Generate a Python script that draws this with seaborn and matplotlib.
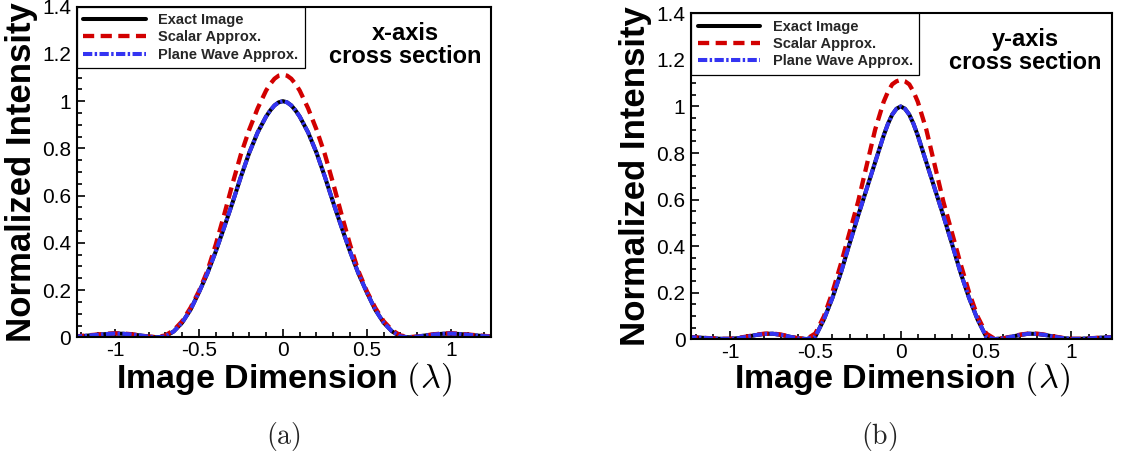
import matplotlib
matplotlib.use("Agg")
import matplotlib.pyplot as plt
from matplotlib.ticker import MultipleLocator
import seaborn as sns

# ---------------- data ----------------
X = [-1.25, -1.20, -1.15, -1.10, -1.05, -1.00, -0.95, -0.90, -0.85, -0.80,
     -0.75, -0.70, -0.65, -0.60, -0.55, -0.50, -0.45, -0.40, -0.35, -0.30,
     -0.25, -0.20, -0.15, -0.10, -0.075, -0.05, -0.025, 0.00, 0.025, 0.05, 0.075,
     0.10, 0.15, 0.20, 0.25, 0.30, 0.35, 0.40, 0.45, 0.50, 0.55, 0.60, 0.65, 0.70,
     0.75, 0.80, 0.85, 0.90, 0.95, 1.00, 1.05, 1.10, 1.15, 1.20, 1.25]

# (a) x-axis cross section
LEFT_EXACT = [0.003, 0.005, 0.008, 0.011, 0.014, 0.016, 0.015, 0.012, 0.008, 0.003,
              0.000, 0.004, 0.025, 0.062, 0.117, 0.190, 0.270, 0.363, 0.465, 0.570,
              0.680, 0.782, 0.868, 0.935, 0.961, 0.982, 0.995, 1.000, 0.995, 0.982, 0.961,
              0.935, 0.868, 0.782, 0.680, 0.570, 0.465, 0.363, 0.270, 0.190, 0.117, 0.062,
              0.025, 0.004, 0.000, 0.003, 0.008, 0.012, 0.015, 0.016, 0.014, 0.011, 0.008,
              0.005, 0.003]
LEFT_SCALAR = [0.003, 0.006, 0.009, 0.012, 0.015, 0.017, 0.016, 0.013, 0.008, 0.003,
               0.001, 0.008, 0.030, 0.068, 0.125, 0.195, 0.280, 0.392, 0.518, 0.650,
               0.775, 0.880, 0.970, 1.045, 1.073, 1.095, 1.108, 1.112, 1.108, 1.095, 1.073,
               1.045, 0.970, 0.880, 0.775, 0.650, 0.518, 0.392, 0.280, 0.195, 0.125, 0.068,
               0.030, 0.008, 0.001, 0.003, 0.008, 0.013, 0.016, 0.017, 0.015, 0.012, 0.009,
               0.006, 0.003]
LEFT_PLANE = [0.003, 0.005, 0.008, 0.011, 0.014, 0.016, 0.015, 0.012, 0.008, 0.003,
              0.000, 0.004, 0.025, 0.062, 0.117, 0.190, 0.270, 0.363, 0.465, 0.570,
              0.680, 0.782, 0.868, 0.935, 0.961, 0.982, 0.995, 1.000, 0.995, 0.982, 0.961,
              0.935, 0.868, 0.782, 0.680, 0.570, 0.465, 0.363, 0.270, 0.190, 0.117, 0.062,
              0.025, 0.004, 0.000, 0.003, 0.008, 0.012, 0.015, 0.016, 0.014, 0.011, 0.008,
              0.005, 0.003]

# (b) y-axis cross section
RIGHT_EXACT = [0.009, 0.008, 0.006, 0.004, 0.002, 0.002, 0.005, 0.011, 0.018, 0.023,
               0.024, 0.019, 0.011, 0.004, 0.001, 0.012, 0.085, 0.178, 0.287, 0.410,
               0.530, 0.645, 0.760, 0.875, 0.925, 0.965, 0.990, 1.000, 0.990, 0.965, 0.925,
               0.875, 0.760, 0.645, 0.530, 0.410, 0.287, 0.178, 0.085, 0.012, 0.001, 0.004,
               0.011, 0.019, 0.024, 0.023, 0.018, 0.011, 0.005, 0.002, 0.002, 0.004, 0.006,
               0.008, 0.009]
RIGHT_SCALAR = [0.009, 0.008, 0.006, 0.004, 0.002, 0.002, 0.006, 0.012, 0.019, 0.024,
                0.025, 0.020, 0.012, 0.004, 0.002, 0.025, 0.098, 0.202, 0.325, 0.458,
                0.590, 0.745, 0.900, 1.020, 1.063, 1.095, 1.108, 1.114, 1.108, 1.095, 1.063,
                1.020, 0.900, 0.745, 0.590, 0.458, 0.325, 0.202, 0.098, 0.025, 0.002, 0.004,
                0.012, 0.020, 0.025, 0.024, 0.019, 0.012, 0.006, 0.002, 0.002, 0.004, 0.006,
                0.008, 0.009]
RIGHT_PLANE = [0.009, 0.008, 0.006, 0.004, 0.002, 0.002, 0.005, 0.011, 0.018, 0.023,
               0.024, 0.019, 0.011, 0.004, 0.001, 0.012, 0.085, 0.178, 0.287, 0.410,
               0.530, 0.645, 0.760, 0.875, 0.925, 0.965, 0.990, 1.000, 0.990, 0.965, 0.925,
               0.875, 0.760, 0.645, 0.530, 0.410, 0.287, 0.178, 0.085, 0.012, 0.001, 0.004,
               0.011, 0.019, 0.024, 0.023, 0.018, 0.011, 0.005, 0.002, 0.002, 0.004, 0.006,
               0.008, 0.009]

SERIES = ["Exact Image", "Scalar Approx.", "Plane Wave Approx."]
NOTES = ["x-axis\ncross section", "y-axis\ncross section"]
CAPTIONS = ["(a)", "(b)"]
XTICKS = [-1, -0.5, 0, 0.5, 1]
XTICKLABELS = ["-1", "-0.5", "0", "0.5", "1"]
YTICKS = [0, 0.2, 0.4, 0.6, 0.8, 1.0, 1.2, 1.4]
YTICKLABELS = ["0", "0.2", "0.4", "0.6", "0.8", "1", "1.2", "1.4"]
XLABEL = "Image Dimension $(\\lambda)$"
YLABEL = "Normalized Intensity"

# ---------------- style ----------------
sns.set_theme(style="white")
plt.rcParams["font.family"] = ["Liberation Sans", "DejaVu Sans"]
plt.rcParams["mathtext.fontset"] = "cm"
plt.rcParams["axes.unicode_minus"] = False

fig = plt.figure(figsize=(11.24, 4.59), dpi=100)
ax_l = fig.add_axes([0.0682, 0.2651, 0.3686, 0.7203])
ax_r = fig.add_axes([0.6148, 0.2608, 0.3748, 0.7102])


def draw(ax, exact, scalar, plane, note, xlab_y):
    sns.lineplot(x=X, y=exact, ax=ax, color="black", lw=2.9,
                 label=SERIES[0], sort=False, estimator=None)
    sns.lineplot(x=X, y=scalar, ax=ax, color="#d20000", lw=3.1,
                 label=SERIES[1], sort=False, estimator=None)
    sns.lineplot(x=X, y=plane, ax=ax, color="#3434f2", lw=2.9,
                 label=SERIES[2], sort=False, estimator=None)
    lines = ax.get_lines()
    lines[1].set_dashes([2.6, 1.5])
    lines[2].set_dashes([2.3, 0.6, 0.6, 0.6])

    ax.set_xlim(-1.228, 1.239)
    ax.set_ylim(0, 1.4)
    ax.set_xticks(XTICKS, XTICKLABELS)
    ax.set_yticks(YTICKS, YTICKLABELS)
    ax.xaxis.set_minor_locator(MultipleLocator(0.1))
    ax.yaxis.set_minor_locator(MultipleLocator(0.05))
    ax.tick_params(which="both", direction="in", top=False, right=False,
                   bottom=True, left=True, colors="black", width=1.2)
    ax.tick_params(which="major", length=6, labelsize=15)
    ax.tick_params(axis="x", which="major", pad=2.5)
    ax.tick_params(axis="y", which="major", pad=4)
    ax.tick_params(which="minor", length=3.5)
    for sp in ax.spines.values():
        sp.set_color("black")
        sp.set_linewidth(1.5)
        sp.set_visible(True)

    ax.set_ylabel(YLABEL, fontsize=25, fontweight="bold", color="black")
    ax.yaxis.set_label_coords(-0.093, 0.5)
    ax.set_xlabel(XLABEL, fontsize=24.5, fontweight="bold", color="black")
    ax.xaxis.set_label_coords(0.5, xlab_y)

    leg = ax.legend(loc="upper left", bbox_to_anchor=(0, 1), borderaxespad=0,
                    fancybox=False, frameon=True, prop={"weight": "bold", "size": 10.5},
                    handlelength=4.3, handletextpad=0.85, labelspacing=0.22,
                    borderpad=0.45)
    fr = leg.get_frame()
    fr.set_edgecolor("black")
    fr.set_linewidth(0.9)
    fr.set_facecolor("white")
    fr.set_alpha(1)

    ax.text(0.73, 1.237, note, ha="center", va="center", fontsize=17,
            fontweight="bold", linespacing=1.0, color="black")


draw(ax_l, LEFT_EXACT, LEFT_SCALAR, LEFT_PLANE, NOTES[0], -0.07)
draw(ax_r, RIGHT_EXACT, RIGHT_SCALAR, RIGHT_PLANE, NOTES[1], -0.064)

fig.text(0.252, 0.048, "$\\mathrm{" + CAPTIONS[0] + "}$", ha="center", va="center", fontsize=20)
fig.text(0.782, 0.048, "$\\mathrm{" + CAPTIONS[1] + "}$", ha="center", va="center", fontsize=20)

fig.savefig("out.png", dpi=100, facecolor="white")
